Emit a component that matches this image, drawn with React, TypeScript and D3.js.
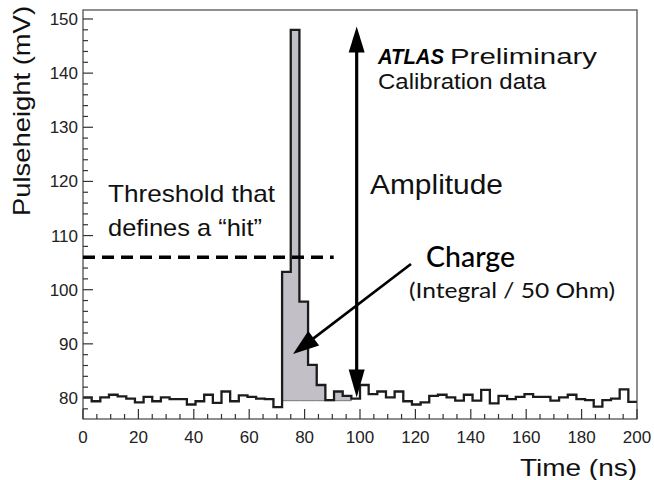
import React from "react";
import * as d3 from "d3";

// ---- data ----
const binWidthNs = 3.125;
const pulseMv = [
  80.1, 79.4, 80.1, 80.6, 80.3, 79.9, 79.2, 80.2, 79.4, 80.1,
  79.8, 79.8, 78.8, 79.4, 80.6, 79.1, 81.2, 79.4, 80.5, 80.2,
  79.9, 79.8, 78.3, 103.3, 148.0, 97.8, 86.1, 82.4, 79.6, 81.2,
  80.4, 79.9, 82.4, 80.7, 81.2, 80.1, 81.2, 79.4, 78.8, 79.2,
  80.4, 80.6, 80.1, 79.5, 80.6, 79.5, 81.5, 79.0, 80.4, 79.8,
  80.2, 80.7, 80.2, 80.2, 79.5, 80.1, 80.6, 79.8, 79.6, 78.4,
  79.6, 79.9, 81.6, 79.3,
];
const chargeBins = [23, 30]; // first and last shaded bin
const chargeBase = 79.5;
const xMajorTicks = [0, 20, 40, 60, 80, 100, 120, 140, 160, 180, 200];
const yMajorTicks = [80, 90, 100, 110, 120, 130, 140, 150];
const thresholdMv = 106;
const thresholdEndNs = 90.5;
const amplitudeNs = 98.8;
const amplitudeTop = 148.6;
const amplitudeBottom = 80.1;

// ---- layout ----
const W = 654;
const H = 480;
const L = 83;
const R = 637;
const T = 10;
const B = 419;

export default function App() {
  const x = d3.scaleLinear().domain([0, 200]).range([L, R]);
  const y = d3.scaleLinear().domain([76.12, 151.66]).range([B, T]);

  const pts: [number, number][] = pulseMv.map((v, i) => [i * binWidthNs, v]);
  pts.push([pulseMv.length * binWidthNs, pulseMv[pulseMv.length - 1]]);

  const line = d3
    .line<[number, number]>()
    .x((d) => x(d[0]))
    .y((d) => y(d[1]))
    .curve(d3.curveStepAfter);

  const shadePts: [number, number][] = [];
  for (let i = chargeBins[0]; i <= chargeBins[1]; i++) shadePts.push([i * binWidthNs, pulseMv[i]]);
  shadePts.push([(chargeBins[1] + 1) * binWidthNs, pulseMv[chargeBins[1]]]);
  const area = d3
    .area<[number, number]>()
    .x((d) => x(d[0]))
    .y0(y(chargeBase))
    .y1((d) => y(d[1]))
    .curve(d3.curveStepAfter);

  const xMinor = d3.range(0, 201, 5).filter((v) => v % 20 !== 0);
  const yMinor = d3.range(78, 151, 2).filter((v) => v % 10 !== 0);

  const ax = x(amplitudeNs);
  const aTop = y(amplitudeTop);
  const aBot = y(amplitudeBottom);

  // charge arrow
  const cx0 = 411, cy0 = 264, cx1 = 293, cy1 = 354;
  const ang = Math.atan2(cy1 - cy0, cx1 - cx0);
  const head = (tx: number, ty: number, a: number, len: number, wid: number) => {
    const bx = tx - len * Math.cos(a);
    const by = ty - len * Math.sin(a);
    const px = -Math.sin(a) * wid / 2;
    const py = Math.cos(a) * wid / 2;
    return `M${tx},${ty}L${bx + px},${by + py}L${bx - px},${by - py}Z`;
  };

  const axisFont = "'Liberation Sans', Arial, sans-serif";
  const noteFont = "Lato, 'Open Sans', sans-serif";

  return (
    <svg width={W} height={H} style={{ position: "absolute", left: 0, top: 0, background: "#fff" }}>
      <rect x={0} y={0} width={W} height={H} fill="#fff" />
      {/* shaded charge */}
      <path d={area(shadePts) || ""} fill="#c3bfc6" stroke="#777" strokeWidth={1} />
      {/* histogram */}
      <path d={line(pts) || ""} fill="none" stroke="#1c1c1c" strokeWidth={2.3} />
      {/* frame */}
      <rect x={L} y={T} width={R - L} height={B - T} fill="none" stroke="#444" strokeWidth={1.2} />
      {/* x ticks */}
      {xMajorTicks.map((v) => (
        <line key={"xM" + v} x1={x(v)} x2={x(v)} y1={B} y2={B - 10} stroke="#333" strokeWidth={1.2} />
      ))}
      {xMinor.map((v) => (
        <line key={"xm" + v} x1={x(v)} x2={x(v)} y1={B} y2={B - 5} stroke="#333" strokeWidth={1.2} />
      ))}
      {xMajorTicks.map((v) => (
        <text key={"xl" + v} x={x(v)} y={443} textAnchor="middle" fontFamily={axisFont} fontSize={17} fill="#222">
          {v}
        </text>
      ))}
      {/* y ticks */}
      {yMajorTicks.map((v) => (
        <line key={"yM" + v} x1={L} x2={L + 10} y1={y(v)} y2={y(v)} stroke="#333" strokeWidth={1.2} />
      ))}
      {yMinor.map((v) => (
        <line key={"ym" + v} x1={L} x2={L + 5} y1={y(v)} y2={y(v)} stroke="#333" strokeWidth={1.2} />
      ))}
      {yMajorTicks.map((v) => (
        <text key={"yl" + v} x={78} y={y(v) + 6} textAnchor="end" fontFamily={axisFont} fontSize={17} fill="#222">
          {v}
        </text>
      ))}
      {/* axis titles */}
      <text
        transform={`translate(30,216) rotate(-90)`}
        fontFamily={axisFont}
        fontSize={24}
        fill="#111"
        textLength={210}
        lengthAdjust="spacingAndGlyphs"
      >
        Pulseheight  (mV)
      </text>
      <text x={520} y={476} fontFamily={axisFont} fontSize={24} fill="#111" textLength={117} lengthAdjust="spacingAndGlyphs">
        Time  (ns)
      </text>
      {/* threshold */}
      <line
        x1={L}
        x2={x(thresholdEndNs)}
        y1={y(thresholdMv)}
        y2={y(thresholdMv)}
        stroke="#000"
        strokeWidth={3.5}
        strokeDasharray="12 7"
      />
      <text x={108} y={202} fontFamily={axisFont} fontSize={24} fill="#111" textLength={167} lengthAdjust="spacingAndGlyphs">
        Threshold that
      </text>
      <text x={108} y={236} fontFamily={axisFont} fontSize={24} fill="#111" textLength={154} lengthAdjust="spacingAndGlyphs">
        defines a “hit”
      </text>
      {/* amplitude arrow */}
      <line x1={ax} x2={ax} y1={aTop + 20} y2={aBot - 20} stroke="#000" strokeWidth={3.2} />
      <path d={head(ax, aTop, -Math.PI / 2, 26, 16)} fill="#000" />
      <path d={head(ax, aBot, Math.PI / 2, 28, 16)} fill="#000" />
      <text x={370} y={194} fontFamily={axisFont} fontSize={28} fill="#111" textLength={133} lengthAdjust="spacingAndGlyphs">
        Amplitude
      </text>
      {/* ATLAS label */}
      <text x={378} y={64} fontFamily={axisFont} fontSize={22} fill="#000" fontWeight="bold" fontStyle="italic" textLength={66} lengthAdjust="spacingAndGlyphs">
        ATLAS
      </text>
      <text x={450} y={64} fontFamily={axisFont} fontSize={22} fill="#111" textLength={147} lengthAdjust="spacingAndGlyphs">
        Preliminary
      </text>
      <text x={378} y={89} fontFamily={axisFont} fontSize={22} fill="#111" textLength={168} lengthAdjust="spacingAndGlyphs">
        Calibration data
      </text>
      {/* charge arrow */}
      <line
        x1={cx0}
        y1={cy0}
        x2={cx1 - 20 * Math.cos(ang)}
        y2={cy1 - 20 * Math.sin(ang)}
        stroke="#000"
        strokeWidth={2.6}
      />
      <path d={head(cx1, cy1, ang, 26, 18)} fill="#000" />
      <text x={426} y={267} fontFamily={noteFont} fontSize={28} fill="#000" fontWeight={500} textLength={89} lengthAdjust="spacingAndGlyphs">
        Charge
      </text>
      <text x={409} y={298} fontFamily={noteFont} fontSize={22} fill="#111" textLength={206} lengthAdjust="spacingAndGlyphs">
        (Integral / 50 Ohm)
      </text>
    </svg>
  );
}
